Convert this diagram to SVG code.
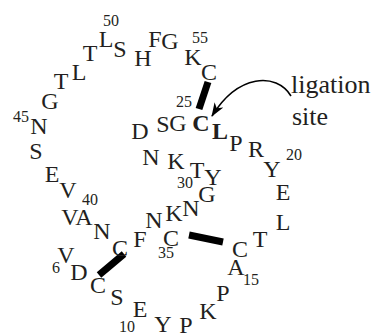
<svg xmlns="http://www.w3.org/2000/svg" width="374" height="334" viewBox="0 0 374 334">
<style>
text{font-family:'Liberation Serif','Times New Roman',Times,serif;fill:#231f20;text-anchor:middle}
.a{font-size:24px}
.b{font-size:24px;font-weight:bold}
.n{font-size:16px}
.lab{font-size:26px;text-anchor:start}
.bond{stroke:#000;stroke-width:7;stroke-linecap:butt}
.arr{fill:none;stroke:#000;stroke-width:1.6}
</style>
<defs>
<marker id="ah" viewBox="0 0 14 10" refX="13" refY="5" markerWidth="14" markerHeight="10" markerUnits="userSpaceOnUse" orient="auto">
<path d="M0,0 L14,5 L0,10 L4,5 Z" fill="#000"/>
</marker>
</defs>
<g id="connectors">
<line class="bond" x1="208" y1="82" x2="199" y2="109"/>
<line class="bond" x1="189" y1="235" x2="223" y2="242"/>
<line class="bond" x1="124" y1="254" x2="99" y2="275"/>
<path class="arr" d="M291,96 C276,72 238,74 212,116" marker-end="url(#ah)"/>
</g>
<g id="residues">
<g id="n50"><text class="n" x="111" y="26">50</text></g>
<g id="r-L51"><text class="a" x="106" y="47">L</text></g>
<g id="r-S"><text class="a" x="120" y="57">S</text></g>
<g id="r-T49"><text class="a" x="90" y="61">T</text></g>
<g id="r-H"><text class="a" x="143" y="66">H</text></g>
<g id="r-F"><text class="a" x="155" y="47">F</text></g>
<g id="r-G54"><text class="a" x="170" y="49">G</text></g>
<g id="r-K55"><text class="a" x="193" y="65">K</text></g>
<g id="n55"><text class="n" x="200" y="43">55</text></g>
<g id="r-C56"><text class="a" x="209" y="80">C</text></g>
<g id="r-L48"><text class="a" x="79" y="80">L</text></g>
<g id="r-T47"><text class="a" x="61" y="89">T</text></g>
<g id="r-G46"><text class="a" x="50" y="109">G</text></g>
<g id="n45"><text class="n" x="21" y="122">45</text></g>
<g id="r-N45"><text class="a" x="39" y="134">N</text></g>
<g id="r-S44"><text class="a" x="36" y="159">S</text></g>
<g id="r-E43"><text class="a" x="52" y="182">E</text></g>
<g id="r-V42"><text class="a" x="68" y="198">V</text></g>
<g id="n40"><text class="n" x="90" y="205">40</text></g>
<g id="r-V41"><text class="a" x="70" y="225">V</text></g>
<g id="r-A40"><text class="a" x="84" y="225">A</text></g>
<g id="r-N39"><text class="a" x="102" y="239">N</text></g>
<g id="r-C38"><text class="a" x="120" y="256">C</text></g>
<g id="r-F37"><text class="a" x="140" y="247">F</text></g>
<g id="r-N36"><text class="a" x="154" y="228">N</text></g>
<g id="r-K33"><text class="a" x="174" y="221">K</text></g>
<g id="r-N32"><text class="a" x="191" y="216">N</text></g>
<g id="r-C35"><text class="a" x="171" y="246">C</text></g>
<g id="n35"><text class="n" x="166" y="258">35</text></g>
<g id="r-V6"><text class="a" x="66" y="263">V</text></g>
<g id="n6"><text class="n" x="56" y="273">6</text></g>
<g id="r-D7"><text class="a" x="79" y="280">D</text></g>
<g id="r-C8"><text class="a" x="98" y="293">C</text></g>
<g id="r-S9"><text class="a" x="117" y="305">S</text></g>
<g id="r-E10"><text class="a" x="140" y="317">E</text></g>
<g id="n10"><text class="n" x="127" y="332">10</text></g>
<g id="r-Y11"><text class="a" x="163" y="332">Y</text></g>
<g id="r-P12"><text class="a" x="186" y="333">P</text></g>
<g id="r-K13"><text class="a" x="208" y="319">K</text></g>
<g id="r-P14"><text class="a" x="223" y="301">P</text></g>
<g id="n15"><text class="n" x="251" y="285">15</text></g>
<g id="r-A15"><text class="a" x="236" y="275">A</text></g>
<g id="r-C16"><text class="a" x="240" y="257">C</text></g>
<g id="r-T17"><text class="a" x="260" y="247">T</text></g>
<g id="r-L18"><text class="a" x="283" y="230">L</text></g>
<g id="r-E19"><text class="a" x="283" y="200">E</text></g>
<g id="r-Y20"><text class="a" x="272" y="177">Y</text></g>
<g id="n20"><text class="n" x="294" y="160">20</text></g>
<g id="r-R21"><text class="a" x="256" y="157">R</text></g>
<g id="r-P22"><text class="a" x="236" y="151">P</text></g>
<g id="r-L23"><text class="b" x="220" y="139">L</text></g>
<g id="r-C24"><text class="b" x="201" y="131">C</text></g>
<g id="r-G25"><text class="a" x="178" y="131">G</text></g>
<g id="r-S26"><text class="a" x="163" y="132">S</text></g>
<g id="n25"><text class="n" x="184" y="107">25</text></g>
<g id="r-D27"><text class="a" x="140" y="139">D</text></g>
<g id="r-N28"><text class="a" x="151" y="165">N</text></g>
<g id="r-K29"><text class="a" x="176" y="169">K</text></g>
<g id="r-T30"><text class="a" x="197" y="178">T</text></g>
<g id="r-Y31"><text class="a" x="213" y="185">Y</text></g>
<g id="n30"><text class="n" x="185" y="188">30</text></g>
<g id="r-G32"><text class="a" x="207" y="202">G</text></g>
</g>
<g id="label"><text class="lab" x="291" y="93">ligation</text><text class="lab" x="292" y="125">site</text></g>
</svg>
